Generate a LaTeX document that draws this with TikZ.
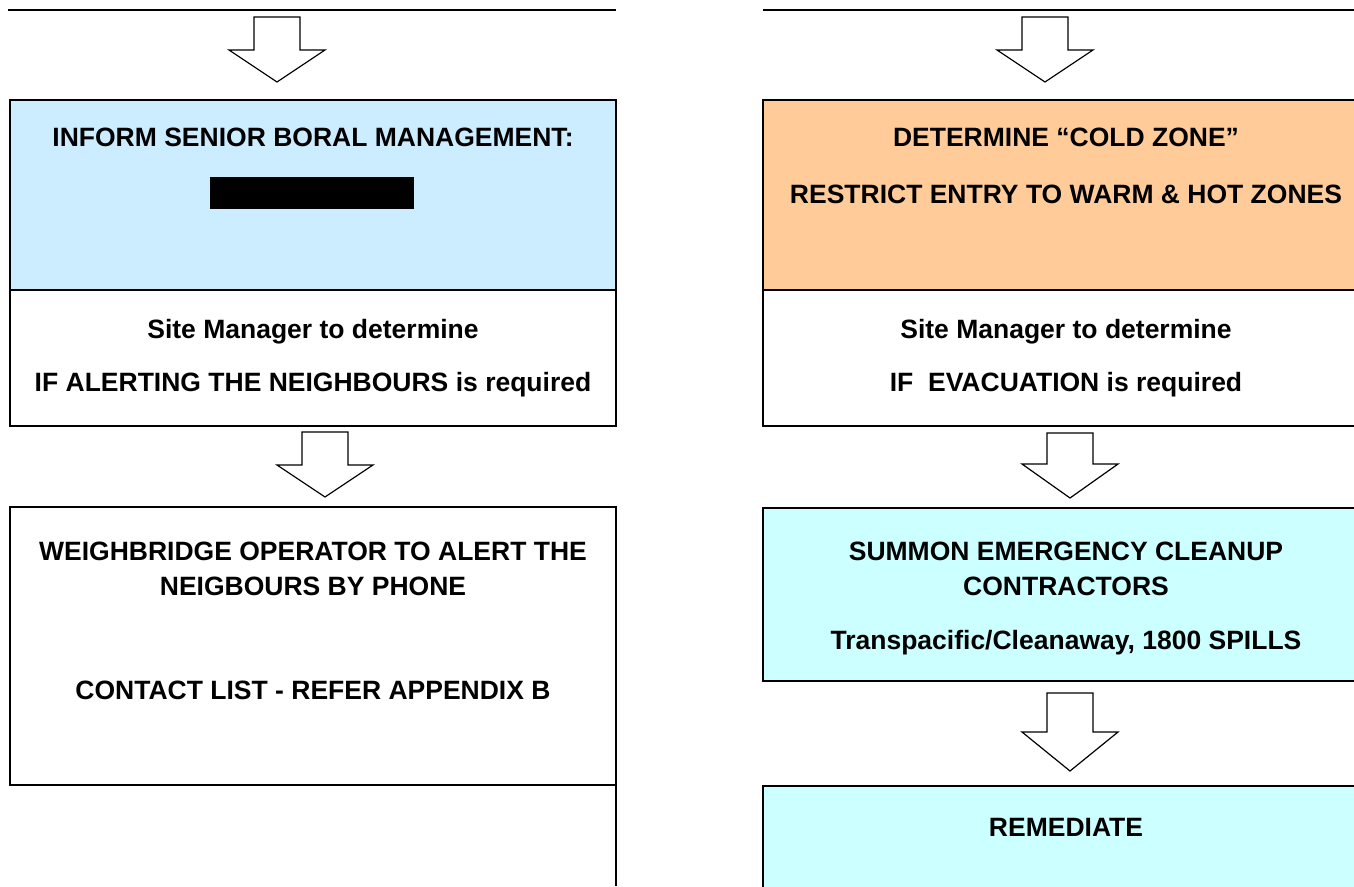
\documentclass[tikz,border=0pt]{standalone}
\usepackage{fontspec}
\setmainfont{Liberation Sans}
\usepackage{tikz}
\usetikzlibrary{positioning}
\definecolor{infoblue}{HTML}{CCECFF}
\definecolor{zoneorange}{HTML}{FFCC99}
\definecolor{cleancyan}{HTML}{CCFFFF}
\tikzstyle{box} = [draw, line width=2.2pt, minimum width=606pt, inner sep=0pt, outer sep=0pt]
\tikzstyle{txt} = [font=\fontsize{26.5}{31}\selectfont\bfseries, anchor=base, inner sep=0pt]
\tikzstyle{blockarrow} = [draw, line width=1.2pt, fill=white, line join=miter]
\tikzstyle{rule} = [line width=2.2pt]
\newcommand{\flowarrow}[4]{\draw[blockarrow] ({#1-23},#2) -- ({#1+23},#2) -- ({#1+23},#3) -- ({#1+48},#3) -- (#1,#4) -- ({#1-48},#3) -- ({#1-23},#3) -- cycle;}

\begin{document}
\begin{tikzpicture}[x=1pt,y=-1pt]
\useasboundingbox (0,0) rectangle (1354,886);
\clip (0,0) rectangle (1354,886);
\draw[rule] (8,10) -- (616,10);
\draw[rule] (763,10) -- (1354,10);
\flowarrow{277}{17}{50}{82}
\flowarrow{1045}{17}{50}{82}

\node[box, fill=infoblue, minimum height=190pt, anchor=north west] (inform) at (10,100) {};
\node[box, minimum height=136pt, below=0pt of inform] (sitel) {};
\node[box, minimum height=278pt, anchor=north west] (weigh) at (10,507) {};
\draw[rule] (weigh.south east) -- (616,886);
\flowarrow{325}{432}{465}{497}

\node[txt] (informtxt) at (313,146) {INFORM SENIOR BORAL MANAGEMENT:};
\node[fill=black, minimum width=204pt, minimum height=32pt, inner sep=0pt] (hidden) at (312,193) {};
\node[txt] (sitel1) at (313,338) {Site Manager to determine};
\node[txt] (sitel2) at (313,391) {IF ALERTING THE NEIGHBOURS is required};
\node[txt] (weigh1) at (313,560) {WEIGHBRIDGE OPERATOR TO ALERT THE};
\node[txt] (weigh2) at (313,595) {NEIGBOURS BY PHONE};
\node[txt] (weigh3) at (313,699) {CONTACT LIST - REFER APPENDIX B};

\node[box, fill=zoneorange, minimum height=190pt, anchor=north west] (cold) at (763,100) {};
\node[box, minimum height=136pt, below=0pt of cold] (siter) {};
\node[box, fill=cleancyan, minimum height=173pt, anchor=north west] (summon) at (763,508) {};
\node[box, fill=cleancyan, minimum height=150pt, anchor=north west] (remed) at (763,786) {};
\flowarrow{1070}{433}{464}{498}
\flowarrow{1070}{693}{732}{771}

\node[txt] (cold1) at (1066,146) {DETERMINE “COLD ZONE”};
\node[txt] (cold2) at (1066,203) {RESTRICT ENTRY TO WARM \& HOT ZONES};
\node[txt] (siter1) at (1066,338) {Site Manager to determine};
\node[txt] (siter2) at (1066,391) {IF\ \ EVACUATION is required};
\node[txt] (summon1) at (1066,560) {SUMMON EMERGENCY CLEANUP};
\node[txt] (summon2) at (1066,595) {CONTRACTORS};
\node[txt] (summon3) at (1066,649) {Transpacific/Cleanaway, 1800 SPILLS};
\node[txt] (remed1) at (1066,836) {REMEDIATE};
\end{tikzpicture}
\end{document}
